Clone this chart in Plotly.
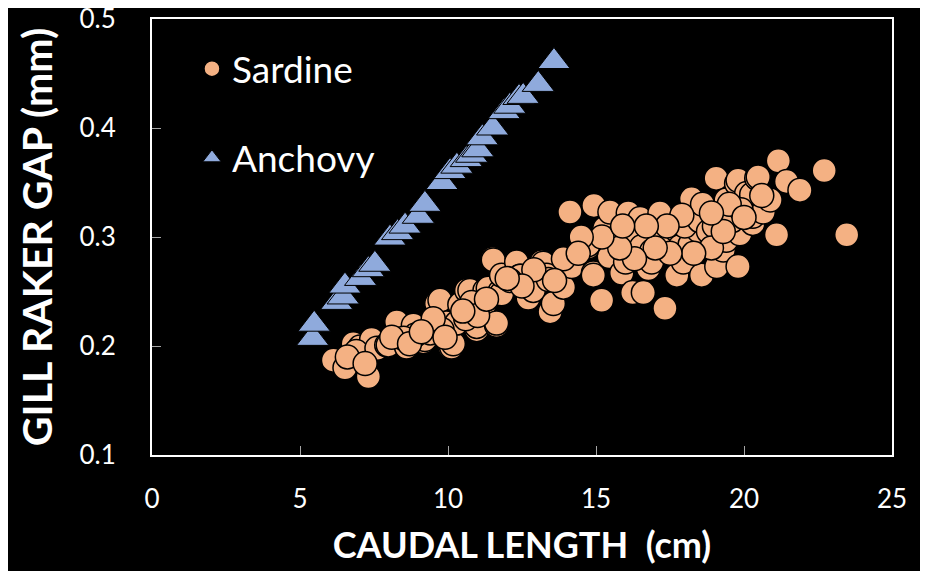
import plotly.graph_objects as go

# values
anchovy_len = [5.43, 5.48, 6.24, 6.46, 6.52, 7.05, 7.31, 7.53, 8.04, 8.3, 8.55, 9.0, 9.22,
               9.8, 10.07, 10.3, 10.62, 10.8, 11.01, 11.16, 11.51, 11.9, 12.09, 12.4,
               12.54, 13.05, 13.58]
anchovy_gap = [0.207, 0.220, 0.240, 0.245, 0.255, 0.262, 0.270, 0.275, 0.299, 0.304, 0.310,
               0.319, 0.330, 0.350, 0.360, 0.365, 0.371, 0.375, 0.380, 0.391, 0.400, 0.415,
               0.420, 0.428, 0.429, 0.440, 0.461]

sardine_len = [6.13, 6.52, 6.8, 7.03, 7.08, 7.14, 7.31, 7.42, 6.9, 6.6, 7.6, 7.93, 7.98,
               8.27, 8.6, 8.83, 9.17, 9.22, 8.9, 8.5, 9.4, 9.62, 9.73, 9.95, 10.07, 10.12,
               10.18, 10.29, 10.4, 10.63, 10.74, 10.97, 10.97, 11.08, 11.19, 11.25, 11.36,
               11.51, 11.53, 11.64, 11.64, 11.76, 11.81, 11.81, 10.6, 10.8, 11.0, 9.8, 9.5,
               12.32, 12.43, 12.45, 12.71, 12.88, 13.17, 13.22, 13.33, 13.39, 13.45, 13.56,
               13.9, 14.12, 14.18, 14.74, 14.74, 14.91, 14.91, 14.93, 15.19, 15.3, 15.45,
               15.47, 15.65, 15.87, 16.0, 16.09, 16.09, 16.24, 16.49, 16.54, 16.6, 16.77,
               16.88, 16.88, 17.16, 17.28, 17.33, 17.73, 17.73, 17.84, 17.95, 18.18, 18.23,
               18.46, 18.57, 18.73, 19.06, 19.08, 19.3, 19.4, 19.4, 19.75, 19.8, 19.8, 19.86,
               20.09, 20.09, 20.26, 20.3, 20.3, 20.43, 20.48, 20.65, 20.88, 21.1, 21.16,
               21.44, 21.89, 22.71, 23.47,
               18.0, 18.5, 18.8, 19.0, 19.2, 18.9, 18.3, 17.5, 17.0, 16.3, 15.8, 15.2, 14.5,
               19.6, 19.9, 19.5, 18.6, 17.9, 17.4, 16.7, 15.9, 13.9, 12.9, 12.1, 12.5, 13.6,
               14.4, 7.2, 8.1, 8.7, 9.1, 9.9, 10.5, 11.3, 12.0, 19.3, 20.6, 20.0, 18.9]
sardine_gap = [0.187, 0.180, 0.202, 0.199, 0.189, 0.192, 0.172, 0.206, 0.195, 0.190, 0.198,
               0.201, 0.201, 0.222, 0.199, 0.219, 0.204, 0.206, 0.210, 0.207, 0.212, 0.239,
               0.242, 0.221, 0.199, 0.199, 0.202, 0.221, 0.238, 0.251, 0.251, 0.215, 0.218,
               0.236, 0.235, 0.251, 0.253, 0.280, 0.279, 0.219, 0.221, 0.250, 0.248, 0.265,
               0.225, 0.240, 0.228, 0.215, 0.225,
               0.277, 0.264, 0.264, 0.244, 0.251, 0.277, 0.276, 0.265, 0.261, 0.2315, 0.239,
               0.254, 0.323, 0.273, 0.291, 0.293, 0.267, 0.265, 0.329, 0.242, 0.308, 0.282,
               0.323, 0.299, 0.267, 0.277, 0.300, 0.322, 0.249, 0.317, 0.291, 0.249, 0.271,
               0.287, 0.277, 0.322, 0.300, 0.2346, 0.265, 0.306, 0.291, 0.277, 0.293, 0.335,
               0.306, 0.265, 0.322, 0.354, 0.273, 0.288, 0.334, 0.297, 0.349, 0.352, 0.273,
               0.303, 0.340, 0.328, 0.339, 0.3125, 0.319, 0.354, 0.355, 0.323, 0.334, 0.302,
               0.370, 0.351, 0.343, 0.361, 0.302,
               0.310, 0.315, 0.305, 0.310, 0.320, 0.290, 0.285, 0.285, 0.290, 0.280, 0.290,
               0.300, 0.300, 0.315, 0.325, 0.330, 0.330, 0.320, 0.310, 0.310, 0.310, 0.280,
               0.270, 0.260, 0.255, 0.260, 0.285, 0.184, 0.208, 0.202, 0.213, 0.208, 0.232,
               0.243, 0.262, 0.305, 0.338, 0.318, 0.322]

x_ticks = [0, 5, 10, 15, 20, 25]
y_ticks = [0.1, 0.2, 0.3, 0.4, 0.5]

FONT = "Lato"

fig = go.Figure()
fig.add_trace(go.Scatter(
    x=sardine_len, y=sardine_gap, mode="markers", name="Sardine",
    legendgroup="s",
    marker=dict(symbol="circle", size=24, color="#F4B183",
                line=dict(color="black", width=1.5)),
))
fig.add_trace(go.Scatter(
    x=anchovy_len, y=anchovy_gap, mode="markers", name="Anchovy",
    legendgroup="a",
    marker=dict(symbol="triangle-up", size=28, color="#8FAADC",
                line=dict(color="black", width=1)),
))

axis_style = dict(
    showgrid=False, zeroline=False, automargin=False,
    showline=True, linecolor="white", linewidth=2, mirror=True,
    ticks="inside", ticklen=9, tickwidth=1, tickcolor="#a6a6a6",
    tickfont=dict(family=FONT, size=26, color="white"),
    ticklabeloverflow="allow",
)

fig.update_xaxes(axis_style, range=[0, 25], tickvals=x_ticks, ticklabelstandoff=20,
                 title=dict(text="<b>CAUDAL LENGTH  (cm)</b>", standoff=20,
                            font=dict(family=FONT, size=36, color="white")))
fig.update_yaxes(axis_style, range=[0.1, 0.5], tickvals=y_ticks, tickformat=".1f",
                 ticklabelstandoff=29,
                 title=dict(text="<b>GILL RAKER GAP (mm)</b>", standoff=14,
                            font=dict(family=FONT, size=41, color="white")))

# the page body adds an 8px offset, so the margins are shifted by that much
fig.update_layout(
    width=928, height=571,
    paper_bgcolor="black", plot_bgcolor="black",
    margin=dict(l=144, r=44, t=11, b=124),
    font=dict(family=FONT, color="white"),
    legend=dict(x=0.054, y=0.956, xanchor="left", yanchor="top",
                bgcolor="rgba(0,0,0,0)", tracegroupgap=38,
                font=dict(family=FONT, size=37, color="white")),
)

fig.write_html("out.html")
